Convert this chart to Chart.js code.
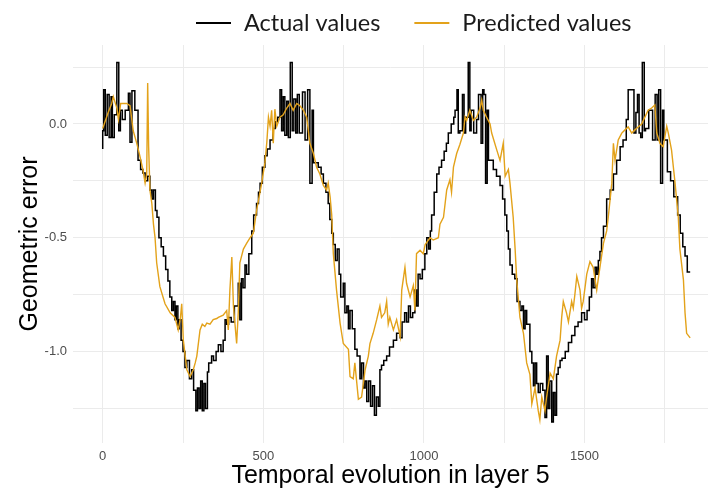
<!DOCTYPE html>
<html><head><meta charset="utf-8">
<script src="https://cdn.jsdelivr.net/npm/chart.js@4.4.0/dist/chart.umd.min.js"></script>
<style>html,body{margin:0;padding:0;background:#fff;overflow:hidden}#wrap{width:708px;height:491px;position:relative}</style>
</head><body><div id="wrap"><canvas id="c"></canvas></div>
<script>
const seriesLabels = ['Actual values', 'Predicted values'];
const xTitle = 'Temporal evolution in layer 5';
const yTitle = 'Geometric error';
const xGridTicks = [0, 250, 500, 750, 1000, 1250, 1500, 1750];
const xLabelTicks = [0, 500, 1000, 1500];
const yGridTicks = [0.25, 0, -0.25, -0.5, -0.75, -1, -1.25];
const yLabelTicks = [0, -0.5, -1];

// [x, y] pairs, black step series
const actualSeries = [[0,-0.11],[3,-0.03],[8,0.15],[14,-0.05],[20,0.13],[26,-0.06],[30,0.12],[36,-0.06],[44,0.04],[50,0.27],[55,-0.03],[61,0.06],[70,0.02],[80,0.06],[85,0.135],[91,-0.08],[100,0.146],[110,0.06],[118,-0.16],[125,-0.2],[132,-0.215],[140,-0.25],[147,-0.23],[153,-0.29],[158,-0.33],[164,-0.29],[169,-0.38],[175,-0.41],[182,-0.5],[189,-0.54],[196,-0.58],[203,-0.64],[209,-0.69],[215,-0.76],[220,-0.82],[225,-0.78],[229,-0.86],[234,-0.8],[238,-0.9],[244,-0.86],[250,-0.95],[256,-1.0],[262,-1.07],[270,-1.04],[277,-1.12],[283,-1.08],[290,-1.17],[295,-1.26],[300,-1.16],[305,-1.25],[310,-1.13],[315,-1.26],[320,-1.14],[326,-1.25],[330,-1.09],[339,-1.05],[345,-1.02],[353,-1.04],[360,-1.0],[368,-0.97],[375,-1.0],[381,-0.95],[386,-0.86],[392,-0.88],[400,-0.85],[410,-0.87],[422,-0.8],[427,-0.7],[432,-0.86],[437,-0.68],[443,-0.72],[448,-0.62],[455,-0.66],[464,-0.57],[470,-0.47],[479,-0.4],[485,-0.35],[490,-0.3],[497,-0.26],[505,-0.19],[512,-0.14],[521,-0.11],[530,-0.07],[537,-0.02],[545,0.01],[552,0.03],[557,0.15],[562,-0.03],[567,0.12],[573,-0.05],[578,0.1],[584,-0.06],[590,0.27],[595,-0.03],[601,0.11],[606,-0.04],[612,0.13],[622,-0.04],[630,0.14],[638,-0.07],[645,0.15],[652,-0.26],[656,0.06],[671,-0.17],[680,-0.19],[687,-0.22],[695,-0.26],[702,-0.3],[707,-0.35],[713,-0.42],[718,-0.48],[724,-0.53],[730,-0.6],[736,-0.55],[741,-0.66],[749,-0.76],[754,-0.7],[760,-0.83],[765,-0.8],[770,-0.9],[777,-0.82],[785,-0.9],[792,-0.99],[801,-1.02],[806,-1.12],[812,-1.05],[817,-1.16],[822,-1.13],[828,-1.22],[834,-1.13],[840,-1.24],[846,-1.15],[852,-1.28],[858,-1.2],[863,-1.24],[868,-1.08],[875,-1.06],[884,-1.04],[893,-1.02],[905,-0.98],[915,-0.95],[926,-0.92],[932,-0.94],[940,-0.87],[946,-0.83],[952,-0.87],[958,-0.8],[965,-0.85],[972,-0.83],[977,-0.73],[982,-0.8],[988,-0.66],[995,-0.68],[1003,-0.64],[1009,-0.57],[1015,-0.5],[1020,-0.55],[1024,-0.47],[1032,-0.4],[1040,-0.3],[1047,-0.22],[1055,-0.19],[1063,-0.16],[1070,-0.12],[1076,-0.085],[1085,-0.04],[1093,0.0],[1097,0.03],[1103,0.06],[1107,0.15],[1112,-0.04],[1120,-0.03],[1125,0.13],[1130,-0.04],[1138,0.03],[1143,0.27],[1147,-0.03],[1155,0.06],[1164,-0.04],[1170,0.02],[1178,0.13],[1183,-0.085],[1187,0.15],[1192,0.13],[1197,-0.26],[1201,0.06],[1216,-0.16],[1226,-0.2],[1237,-0.23],[1245,-0.27],[1252,-0.33],[1258,-0.4],[1263,-0.47],[1268,-0.55],[1275,-0.62],[1283,-0.66],[1290,-0.68],[1299,-0.78],[1305,-0.82],[1310,-0.8],[1315,-0.9],[1320,-0.82],[1330,-0.88],[1336,-1.0],[1341,-1.05],[1346,-1.15],[1351,-1.05],[1356,-1.14],[1362,-1.18],[1370,-1.14],[1377,-1.17],[1382,-1.29],[1387,-1.02],[1392,-1.25],[1398,-1.13],[1403,-1.31],[1408,-1.18],[1413,-1.28],[1418,-1.1],[1424,-1.07],[1430,-1.04],[1440,-1.03],[1450,-1.0],[1460,-0.96],[1470,-0.93],[1480,-0.89],[1491,-0.87],[1500,-0.83],[1508,-0.86],[1515,-0.82],[1522,-0.76],[1527,-0.68],[1533,-0.72],[1538,-0.63],[1543,-0.66],[1548,-0.6],[1553,-0.56],[1559,-0.5],[1569,-0.45],[1580,-0.33],[1590,-0.29],[1600,-0.22],[1611,-0.16],[1620,-0.1],[1630,-0.07],[1636,0.02],[1654,0.15],[1660,-0.04],[1665,0.05],[1670,0.13],[1675,-0.04],[1680,-0.06],[1686,0.27],[1690,-0.03],[1700,-0.02],[1712,0.06],[1720,-0.07],[1726,0.13],[1731,-0.07],[1737,0.15],[1743,-0.26],[1747,0.06],[1758,-0.07],[1768,-0.21],[1778,-0.25],[1790,-0.32],[1798,-0.4],[1806,-0.48],[1813,-0.54],[1820,-0.58],[1826,-0.65],[1829,-0.65]];

// [x, y] pairs, orange series
const predictedSeries = [[0,-0.02],[17,0.05],[28,0.09],[33,0.12],[44,0.07],[49,0.02],[56,0.09],[64,0.09],[75,0.09],[85,0.08],[95,-0.03],[106,-0.085],[114,-0.13],[125,-0.2],[132,-0.26],[137,-0.22],[140,0.18],[143,-0.1],[147,-0.29],[153,-0.35],[158,-0.44],[163,-0.5],[168,-0.61],[178,-0.715],[194,-0.79],[210,-0.83],[225,-0.85],[235,-0.905],[242,-0.85],[246,-0.79],[251,-0.95],[262,-1.08],[272,-1.11],[282,-1.08],[288,-1.05],[293,-1.02],[303,-0.905],[310,-0.88],[318,-0.89],[324,-0.875],[334,-0.88],[344,-0.86],[355,-0.855],[360,-0.85],[375,-0.84],[386,-0.82],[391,-0.905],[396,-0.73],[402,-0.585],[407,-0.8],[417,-0.965],[422,-0.83],[427,-0.61],[438,-0.55],[448,-0.525],[459,-0.5],[469,-0.48],[479,-0.38],[495,-0.26],[505,-0.17],[511,-0.08],[516,0.03],[521,-0.01],[526,0.06],[531,-0.085],[536,0.065],[542,-0.01],[552,0.03],[562,0.04],[573,0.07],[583,0.09],[593,0.06],[604,0.09],[614,0.08],[625,0.06],[635,0.03],[645,-0.085],[656,-0.13],[666,-0.19],[676,-0.22],[687,-0.27],[697,-0.29],[702,-0.26],[708,-0.32],[713,-0.4],[718,-0.57],[728,-0.73],[739,-0.875],[749,-0.965],[765,-0.99],[770,-1.11],[780,-1.12],[785,-1.05],[796,-1.21],[806,-1.2],[817,-1.08],[827,-1.02],[832,-0.965],[842,-0.92],[853,-0.86],[863,-0.8],[868,-0.85],[878,-0.83],[884,-0.78],[889,-0.88],[894,-0.85],[905,-0.905],[915,-0.86],[926,-0.935],[931,-0.73],[941,-0.63],[946,-0.7],[957,-0.76],[967,-0.71],[972,-0.82],[977,-0.57],[988,-0.555],[998,-0.57],[1004,-0.53],[1019,-0.5],[1029,-0.51],[1045,-0.5],[1050,-0.44],[1061,-0.41],[1071,-0.29],[1081,-0.245],[1086,-0.3],[1092,-0.19],[1102,-0.13],[1112,-0.09],[1123,-0.04],[1128,0.03],[1133,0.015],[1143,0.06],[1154,0.015],[1164,0.03],[1175,0.07],[1180,0.105],[1185,0.06],[1195,0.03],[1206,0.0],[1211,-0.04],[1227,-0.115],[1237,-0.16],[1247,-0.085],[1253,-0.23],[1263,-0.2],[1268,-0.26],[1278,-0.41],[1284,-0.55],[1289,-0.685],[1299,-0.85],[1310,-0.92],[1320,-1.05],[1330,-1.1],[1336,-1.23],[1346,-1.16],[1356,-1.26],[1361,-1.3],[1367,-1.2],[1377,-1.26],[1382,-1.2],[1393,-1.095],[1403,-1.12],[1413,-1.02],[1424,-0.95],[1429,-0.85],[1434,-0.78],[1444,-0.83],[1450,-0.87],[1460,-0.78],[1465,-0.81],[1470,-0.75],[1476,-0.67],[1486,-0.73],[1491,-0.81],[1496,-0.78],[1507,-0.66],[1517,-0.605],[1527,-0.63],[1538,-0.73],[1548,-0.63],[1559,-0.525],[1569,-0.47],[1574,-0.41],[1585,-0.26],[1590,-0.085],[1595,-0.16],[1605,-0.07],[1616,-0.04],[1626,-0.026],[1636,-0.013],[1647,-0.04],[1657,-0.026],[1667,-0.013],[1678,0.0],[1688,0.03],[1698,0.06],[1709,0.07],[1719,0.083],[1725,-0.04],[1735,-0.085],[1745,-0.1],[1756,-0.01],[1761,-0.04],[1771,-0.115],[1782,-0.26],[1792,-0.41],[1797,-0.55],[1808,-0.685],[1813,-0.83],[1818,-0.92],[1829,-0.94]];

const seriesColors = ['#000000', '#E3A21A'];

const legendPlugin = {
  id: 'topLegend',
  afterDraw(chart) {
    const ctx = chart.ctx;
    ctx.save();
    ctx.font = '23.5px Lato, "Open Sans", sans-serif';
    ctx.textBaseline = 'middle';
    ctx.textAlign = 'left';
    let x = 196;
    const y = 23;
    chart.data.datasets.forEach(ds => {
      ctx.strokeStyle = ds.borderColor;
      ctx.lineWidth = 2.2;
      ctx.beginPath(); ctx.moveTo(x, y); ctx.lineTo(x + 35, y); ctx.stroke();
      x += 35 + 13;
      ctx.fillStyle = '#1a1a1a';
      ctx.fillText(ds.label, x, y);
      x += ctx.measureText(ds.label).width + 34;
    });
    ctx.restore();
  }
};

const tickFont = { family: '"Liberation Sans", Arial, sans-serif', size: 13 };
const titleFont = { family: '"Liberation Sans", Arial, sans-serif', size: 25, lineHeight: 1 };

new Chart(document.getElementById('c'), {
  type: 'line',
  data: {
    datasets: [
      { label: seriesLabels[0], data: actualSeries.map(p => ({ x: p[0], y: p[1] })), borderColor: seriesColors[0], borderWidth: 1.5, stepped: 'after', pointRadius: 0, fill: false, order: 1 },
      { label: seriesLabels[1], data: predictedSeries.map(p => ({ x: p[0], y: p[1] })), borderColor: seriesColors[1], borderWidth: 1.4, pointRadius: 0, fill: false, tension: 0, order: 0 }
    ]
  },
  options: {
    responsive: true, maintainAspectRatio: false, animation: false,
    layout: { padding: { top: 45, right: 0, bottom: 0, left: 0 } },
    plugins: { legend: { display: false }, tooltip: { enabled: false } },
    scales: {
      x: {
        type: 'linear', min: -92.5, max: 1884.5,
        afterBuildTicks: s => { s.ticks = xGridTicks.map(v => ({ value: v })); },
        afterFit: s => { s.height = 48; },
        ticks: { autoSkip: false, maxRotation: 0, padding: 6, color: '#4d4d4d', font: tickFont,
          callback: v => xLabelTicks.includes(v) ? String(v) : '' },
        grid: { color: '#ebebeb', lineWidth: 1, drawTicks: false },
        border: { display: false },
        title: { display: true, text: xTitle, color: '#000', font: titleFont, padding: { top: 0, bottom: 2.5 } }
      },
      y: {
        type: 'linear', min: -1.402, max: 0.347,
        afterBuildTicks: s => { s.ticks = yGridTicks.map(v => ({ value: v })); },
        afterFit: s => { s.width = 73; },
        ticks: { autoSkip: false, padding: 6, color: '#4d4d4d', font: tickFont,
          callback: v => yLabelTicks.includes(v) ? v.toFixed(1) : '' },
        grid: { color: '#ebebeb', lineWidth: 1, drawTicks: false },
        border: { display: false },
        title: { display: true, text: yTitle, color: '#000', font: titleFont, padding: { top: 17.5, bottom: 0 } }
      }
    }
  },
  plugins: [legendPlugin]
});
</script>
</body></html>
